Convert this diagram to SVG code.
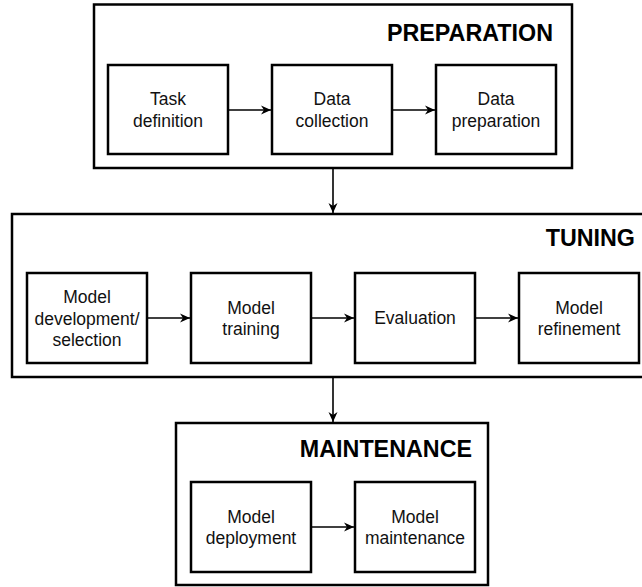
<svg xmlns="http://www.w3.org/2000/svg" width="642" height="587" viewBox="0 0 642 587">
<defs>
<style>
.box{fill:#fff;stroke:#000;stroke-width:2.5}
.cont{fill:#fff;stroke:#000;stroke-width:2.5}
.lbl{font-family:"Liberation Sans",Arial,sans-serif;font-size:17.5px;fill:#111;text-anchor:middle}
.ttl{font-family:"Liberation Sans",Arial,sans-serif;font-size:23.3px;font-weight:bold;fill:#000;text-anchor:end}
.con{stroke:#000;stroke-width:1.6;fill:none;marker-end:url(#arr)}
</style>
<marker id="arr" viewBox="0 0 10 10" refX="10" refY="5" markerWidth="10" markerHeight="10" markerUnits="userSpaceOnUse" orient="auto">
<path d="M0,0.5 L10,5 L0,9.5 L3,5 Z" fill="#000"/>
</marker>
</defs>
<rect width="642" height="587" fill="#fff"/>

<g id="preparation">
<rect class="cont" x="94" y="4.5" width="478" height="163.5"/>
<text class="ttl" x="553" y="41">PREPARATION</text>
</g>
<g id="tuning">
<rect class="cont" x="12" y="214" width="645" height="163"/>
<text class="ttl" x="635" y="246">TUNING</text>
</g>
<g id="maintenance">
<rect class="cont" x="176" y="423" width="312" height="162"/>
<text class="ttl" x="472" y="457">MAINTENANCE</text>
</g>

<g id="task-definition">
<rect class="box" x="108" y="65" width="120" height="89"/>
<text class="lbl" x="168" y="105">Task</text>
<text class="lbl" x="168" y="127">definition</text>
</g>
<g id="data-collection">
<rect class="box" x="272" y="65" width="120" height="89"/>
<text class="lbl" x="332" y="105">Data</text>
<text class="lbl" x="332" y="127">collection</text>
</g>
<g id="data-preparation">
<rect class="box" x="436" y="65" width="120" height="89"/>
<text class="lbl" x="496" y="105">Data</text>
<text class="lbl" x="496" y="127">preparation</text>
</g>

<g id="model-development">
<rect class="box" x="27" y="273" width="120" height="90"/>
<text class="lbl" x="87" y="303">Model</text>
<text class="lbl" x="87" y="324.5">development/</text>
<text class="lbl" x="87" y="346">selection</text>
</g>
<g id="model-training">
<rect class="box" x="191" y="273" width="120" height="90"/>
<text class="lbl" x="251" y="313.5">Model</text>
<text class="lbl" x="251" y="335">training</text>
</g>
<g id="evaluation">
<rect class="box" x="355" y="273" width="120" height="90"/>
<text class="lbl" x="415" y="324">Evaluation</text>
</g>
<g id="model-refinement">
<rect class="box" x="519" y="273" width="120" height="90"/>
<text class="lbl" x="579" y="313.5">Model</text>
<text class="lbl" x="579" y="335">refinement</text>
</g>

<g id="model-deployment">
<rect class="box" x="191" y="482" width="120" height="90"/>
<text class="lbl" x="251" y="522.5">Model</text>
<text class="lbl" x="251" y="544">deployment</text>
</g>
<g id="model-maintenance">
<rect class="box" x="355" y="482" width="120" height="90"/>
<text class="lbl" x="415" y="522.5">Model</text>
<text class="lbl" x="415" y="544">maintenance</text>
</g>

<g id="connectors">
<line class="con" x1="229" y1="110" x2="271" y2="110"/>
<line class="con" x1="393" y1="110" x2="435" y2="110"/>
<line class="con" x1="333" y1="169" x2="333" y2="213"/>
<line class="con" x1="148" y1="318" x2="190" y2="318"/>
<line class="con" x1="312" y1="318" x2="354" y2="318"/>
<line class="con" x1="476" y1="318" x2="518" y2="318"/>
<line class="con" x1="333" y1="378" x2="333" y2="422"/>
<line class="con" x1="312" y1="527" x2="354" y2="527"/>
</g>
</svg>
